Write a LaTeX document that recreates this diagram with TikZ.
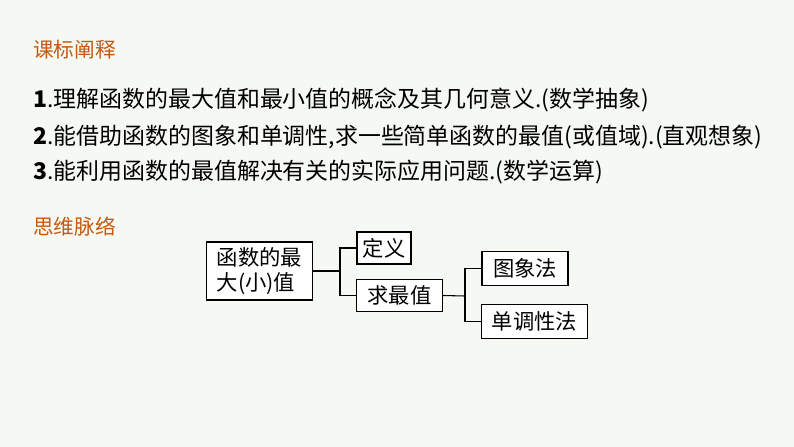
\documentclass[tikz,border=0pt]{standalone}
\usepackage{fontspec}
\setmainfont{Noto Sans CJK SC}
\usetikzlibrary{positioning}
\definecolor{bgpaper}{HTML}{F5F8F3}
\definecolor{headorange}{HTML}{C55A11}
\begin{document}
\begin{tikzpicture}[x=0.75pt,y=-0.75pt,
head/.style={anchor=west,inner sep=0pt,text=headorange,font=\fontsize{15.5}{18}\selectfont},
line/.style={anchor=west,inner sep=0pt,font=\fontsize{17.2}{19}\selectfont},
box/.style={draw,thick,fill=white,inner sep=0pt,font=\fontsize{16}{19}\selectfont},
link/.style={thick}]
\fill[bgpaper] (0,0) rectangle (794,447);
\node[head] (h1) at (33,50) {课标阐释};
\node[line] (l1) at (33,100) {\textbf{1}.理解函数的最大值和最小值的概念及其几何意义.(数学抽象)};
\node[line] (l2) at (33,137) {\textbf{2}.能借助函数的图象和单调性,求一些简单函数的最值(或值域).(直观想象)};
\node[line] (l3) at (33,172) {\textbf{3}.能利用函数的最值解决有关的实际应用问题.(数学运算)};
\node[head] (h2) at (33,227) {思维脉络};
% boxes
\node[box,minimum width=80pt,minimum height=43.5pt,align=left] (main) at (259.5,271) {函数的最\\大(小)值};
\node[box,minimum width=40.5pt,minimum height=24pt] (def) at (384,248) {定义};
\node[box,minimum width=64pt,minimum height=23.5pt] (find) at (399.5,295.5) {求最值};
\node[box,minimum width=64.5pt,minimum height=25pt] (graph) at (525,268.5) {图象法};
\node[box,minimum width=79pt,minimum height=25pt] (mono) at (534.5,321.5) {单调性法};
% links
\coordinate (j1) at (340,271);
\coordinate (j2) at (465,296);
\draw[link] (main.east) -- (j1);
\draw[link] (def.west) -| (j1) |- (find.west);
\draw[link] (find.east) -- (j2);
\draw[link] (graph.west) -| (j2) |- (mono.west);
\end{tikzpicture}
\end{document}
